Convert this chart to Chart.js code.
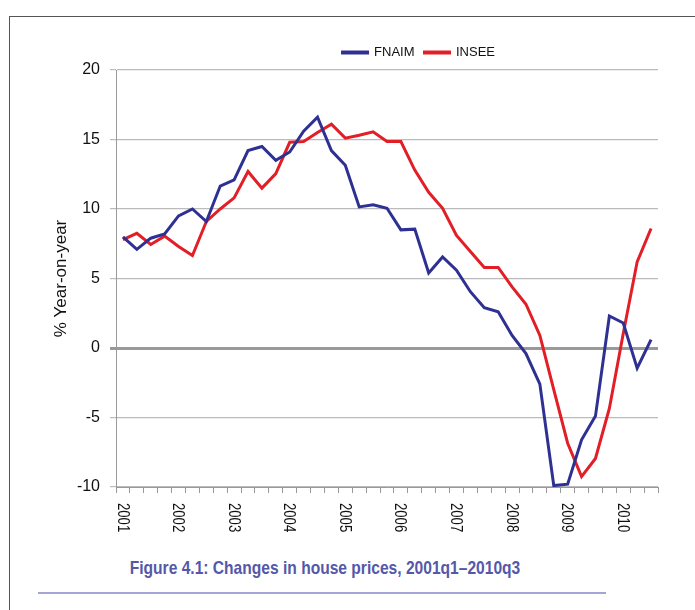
<!DOCTYPE html>
<html>
<head>
<meta charset="utf-8">
<script src="https://cdn.jsdelivr.net/npm/chart.js@4/dist/chart.umd.min.js"></script>
<style>
  html, body { margin: 0; padding: 0; background: #fff; overflow: hidden; }
  body { width: 695px; height: 610px; position: relative; }
  #frame { position: absolute; left: 9px; top: 16px; width: 800px; height: 700px; border: 1px solid #555; box-sizing: border-box; }
  #chart { position: absolute; left: 0; top: 0; }
  #caption { position: absolute; left: 0; top: 557px; width: 650px; text-align: center;
    font: bold 19px "Liberation Sans Narrow", "Liberation Sans", Arial, sans-serif; color: #5558a8;
    transform: scaleX(0.82); transform-origin: 325px 0; white-space: nowrap; }
  #rule { position: absolute; left: 38px; top: 592px; width: 568px; border-top: 2px solid #a5a5d5; }
</style>
</head>
<body>
<div id="frame"></div>
<canvas id="chart" width="695" height="545"></canvas>
<div id="caption">Figure 4.1: Changes in house prices, 2001q1–2010q3</div>
<div id="rule"></div>
<script>
const quarters = [
  '2001q1', '2001q2', '2001q3', '2001q4', '2002q1', '2002q2', '2002q3', '2002q4',
  '2003q1', '2003q2', '2003q3', '2003q4', '2004q1', '2004q2', '2004q3', '2004q4',
  '2005q1', '2005q2', '2005q3', '2005q4', '2006q1', '2006q2', '2006q3', '2006q4',
  '2007q1', '2007q2', '2007q3', '2007q4', '2008q1', '2008q2', '2008q3', '2008q4',
  '2009q1', '2009q2', '2009q3', '2009q4', '2010q1', '2010q2', '2010q3',
];
const fnaim = [
  8.0, 7.1, 7.9, 8.2, 9.5, 10.0, 9.1, 11.65,
  12.1, 14.2, 14.5, 13.5, 14.1, 15.6, 16.6, 14.2,
  13.15, 10.15, 10.3, 10.05, 8.5, 8.55, 5.4, 6.55,
  5.6, 4.05, 2.9, 2.6, 0.9, -0.4, -2.6, -9.9,
  -9.8, -6.6, -4.9, 2.3, 1.8, -1.45, 0.6,
];
const insee = [
  7.8, 8.25, 7.45, 8.05, 7.3, 6.65, 9.1, 10.0,
  10.8, 12.7, 11.5, 12.55, 14.8, 14.85, 15.5, 16.1,
  15.1, 15.3, 15.55, 14.85, 14.85, 12.8, 11.2, 10.05,
  8.1, 6.95, 5.8, 5.8, 4.4, 3.15, 0.9, -3.0,
  -6.85, -9.25, -7.95, -4.35, 1.05, 6.2, 8.6,
];
const yMin = -10;
const yMax = 20;
const yStep = 5;

const narrow = '"Liberation Sans Narrow", "Liberation Sans", Arial, sans-serif';
const blue = 'rgb(46, 49, 146)';
const red = 'rgb(226, 30, 38)';

// years are written downwards under the first quarter of each year, squeezed a bit
const yearLabels = {
  id: 'yearLabels',
  afterDraw(chart) {
    const scale = chart.scales.x;
    const ctx = chart.ctx;
    ctx.save();
    ctx.font = '16px ' + narrow;
    ctx.fillStyle = '#111';
    ctx.textAlign = 'left';
    ctx.textBaseline = 'middle';
    quarters.forEach((q, i) => {
      if (!q.endsWith('q1')) return;
      ctx.save();
      ctx.translate(scale.getPixelForValue(i) - 1, scale.top + 16);
      ctx.rotate(Math.PI / 2);
      ctx.scale(0.82, 1);
      ctx.fillText(q.slice(0, 4), 0, 0);
      ctx.restore();
    });
    ctx.restore();
  }
};

// legend sits left of the right edge, as in the original
const legendPlace = {
  id: 'legendPlace',
  afterLayout(chart) {
    const lg = chart.legend;
    const h = lg.bottom - lg.top;
    lg.top = 36;
    lg.bottom = lg.top + h;
    lg.right = 505;
  }
};

const chart = new Chart(document.getElementById('chart').getContext('2d'), {
  type: 'line',
  data: {
    labels: quarters,
    datasets: [
      { label: 'FNAIM', data: fnaim, borderColor: blue, backgroundColor: blue },
      { label: 'INSEE', data: insee, borderColor: red, backgroundColor: red },
    ],
  },
  options: {
    responsive: false,
    animation: false,
    devicePixelRatio: 1,
    layout: { padding: { top: 37, right: 37, bottom: 0, left: 0 } },
    elements: {
      line: { borderWidth: 3, tension: 0 },
      point: { radius: 0 },
    },
    plugins: {
      tooltip: { enabled: false },
      legend: {
        position: 'top',
        align: 'end',
        labels: {
          boxWidth: 25,
          boxHeight: 1,
          padding: 10,
          color: '#111',
          font: { family: narrow, size: 13 },
        },
      },
    },
    scales: {
      x: {
        offset: true,
        afterFit(scale) { scale.height = 58; },
        grid: { drawOnChartArea: false, drawTicks: true, tickLength: 6, offset: true, color: '#999' },
        border: { color: '#999' },
        ticks: {
          autoSkip: false,
          minRotation: 90,
          maxRotation: 90,
          color: 'rgba(0,0,0,0)',
          callback: (v, i) => quarters[i].endsWith('q1') ? quarters[i].slice(0, 4) : '',
        },
      },
      y: {
        min: yMin,
        max: yMax,
        afterFit(scale) { scale.width = 116; },
        ticks: { stepSize: yStep, padding: 10, color: '#111', font: { family: narrow, size: 16 } },
        grid: {
          tickLength: 6,
          color: (c) => c.tick && c.tick.value === 0 ? '#999' : '#bbb',
          lineWidth: (c) => c.tick && c.tick.value === 0 ? 3 : 1.2,
        },
        border: { color: '#999' },
        title: {
          display: true,
          text: '% Year-on-year',
          color: '#111',
          font: { family: narrow, size: 17 },
          padding: { top: 51, bottom: 0 },
        },
      },
    },
  },
  plugins: [yearLabels, legendPlace],
});
</script>
</body>
</html>
